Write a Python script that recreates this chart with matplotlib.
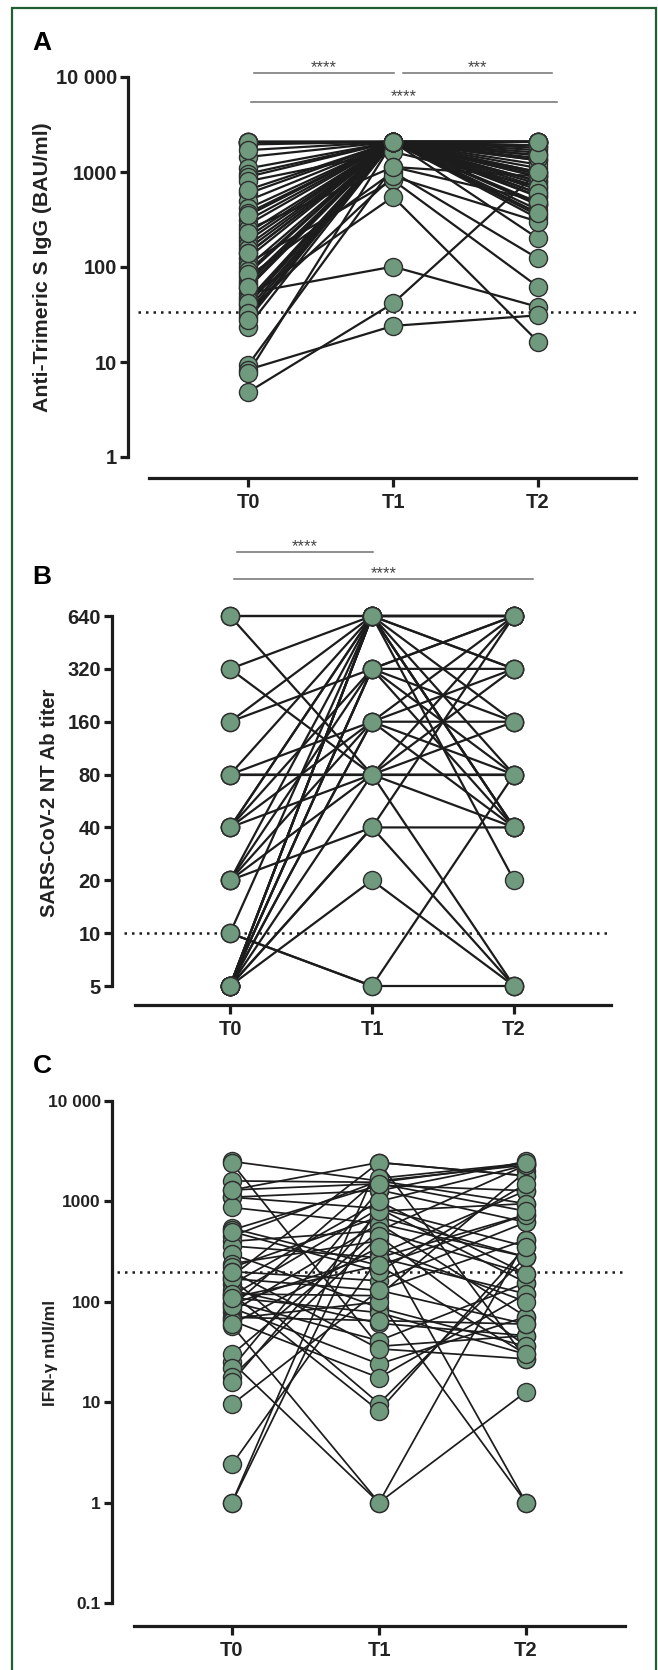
import matplotlib
matplotlib.use("Agg")
import matplotlib.pyplot as plt
import matplotlib.transforms as mtransforms
from matplotlib import font_manager
from matplotlib.ticker import FixedLocator, FixedFormatter, NullLocator
from matplotlib.patches import Rectangle

# ---- data: panel A, anti-trimeric S IgG (BAU/ml), one entry per subject
a_t0 = [2080, 2080, 2080, 2050, 1950, 1440, 1090, 960, 890, 800, 594, 500, 413, 370,
        312, 280, 250, 208, 190, 170, 155, 139, 125, 110, 101, 90, 79, 72, 67, 60,
        53, 48, 45, 40, 36, 34, 30, 23.6, 9.3, 8.3, 7.6, 4.81, 2080, 1700, 650, 350,
        230, 140, 85, 62, 42, 33, 28]
a_t1 = [2080, 2080, 2080, 2080, 2080, 2080, 2080, 2080, 2080, 1630, 2080, 2080, 2080, 2080,
        2080, 2080, 1130, 2080, 2080, 2080, 2080, 2080, 2080, 820, 2080, 2080, 1000, 2080, 2080, 2080,
        101, 548, 2080, 2080, 2080, 900, 2080, 2080, 1130, 24, 2080, 41.5, 2080, 2080, 2080, 2080,
        2080, 2080, 2080, 2080, 2080, 2080, 2080]
a_t2 = [2080, 2080, 1900, 2080, 1700, 1330, 2080, 890, 1500, 700, 550, 466, 2080, 600,
        325, 1800, 900, 466, 1100, 200, 800, 1330, 400, 62, 1000, 560, 123, 2080, 750, 450,
        38, 16.4, 350, 1200, 650, 300, 1600, 950, 500, 31, 800, 1000, 1400, 900, 1900, 700,
        2080, 600, 1500, 1000, 480, 2080, 370]
a_cutoff = 33.8
a_ticks = [1, 10, 100, 1000, 10000]
a_ticklabels = ["1", "10", "100", "1000", "10 000"]

# ---- data: panel B, neutralising antibody titre
b_t0 = [640, 640, 320, 160, 80, 40, 40, 20, 10, 5, 5, 5, 5,
        160, 40, 20, 5, 5, 5,
        80, 40, 20, 5, 5,
        640, 320, 80, 80, 40, 20, 5,
        20, 5, 5,
        5,
        10, 10]
b_t1 = [640, 640, 640, 640, 640, 640, 640, 640, 640, 640, 640, 640, 640,
        320, 320, 320, 320, 320, 320,
        160, 160, 160, 160, 160,
        80, 80, 80, 80, 80, 80, 80,
        40, 40, 40,
        20,
        5, 5]
b_t2 = [640, 640, 640, 320, 640, 160, 40, 40, 640, 320, 40, 20, 80,
        320, 640, 640, 160, 80, 40,
        160, 640, 320, 40, 80,
        80, 160, 80, 640, 40, 5, 320,
        40, 640, 5,
        5,
        5, 80]
b_cutoff = 10
b_ticks = [5, 10, 20, 40, 80, 160, 320, 640]

# ---- data: panel C, IFN-gamma (mUI/ml)
c_t0 = [2500, 2400, 1600, 1300, 1100, 1100, 870, 540, 520, 450, 400, 360, 300, 240,
        220, 200, 180, 170, 150, 130, 120, 115, 110, 100, 95, 87, 80, 70, 68, 65,
        58, 25, 30, 22, 18, 16, 9.5, 2.4, 1, 1, 170, 120, 200, 500, 90, 60, 1300, 110]
c_t1 = [1600, 36, 1550, 2440, 1280, 850, 600, 230, 1450, 1600, 510, 275, 87, 405,
        700, 162, 2440, 130, 1000, 61, 115, 850, 78, 41, 300, 24, 600, 65, 100, 17.5,
        1, 1, 510, 1300, 450, 800, 130, 275, 2440, 1000, 9.7, 8.2, 34, 200, 1700, 350, 1500, 230]
c_t2 = [2300, 46, 2400, 1800, 2500, 155, 71, 740, 1280, 950, 2300, 120, 36, 1,
        280, 620, 27, 415, 190, 46, 2000, 355, 30, 155, 1280, 71, 280, 60, 1, 120,
        12.7, 415, 190, 620, 36, 950, 60, 740, 1800, 2300, 280, 355, 27, 1500, 2400, 100, 800, 30]
c_cutoff = 200
c_ticks = [0.1, 1, 10, 100, 1000, 10000]
c_ticklabels = ["0.1", "1", "10", "100", "1000", "10 000"]

timepoints = ["T0", "T1", "T2"]

W, H = 658, 1670
names = {f.name for f in font_manager.fontManager.ttflist}
narrow = "Liberation Sans Narrow" if "Liberation Sans Narrow" in names else "Liberation Sans"
plt.rcParams["font.family"] = ["Liberation Sans", "DejaVu Sans"]
green = "#6f9a7d"
border = "#1f5f33"

fig = plt.figure(figsize=(W / 100, H / 100), dpi=100)


def px_axes(left, right, top, bottom):
    return fig.add_axes([left / W, 1 - bottom / H, (right - left) / W, (bottom - top) / H])


def draw_panel(ax, t0, t1, t2, lw):
    for a, b, c in zip(t0, t1, t2):
        ax.plot([0, 1, 2], [a, b, c], color="#1c1c1c", lw=lw, zorder=2, clip_on=False)
    for i, vals in enumerate([t0, t1, t2]):
        ax.plot([i] * len(vals), vals, "o", ms=13, mfc=green, mec="#2e2e2e", mew=1.0,
                zorder=3, clip_on=False)


def style_axes(ax, xlim, xstart, outward, tick_font, tick_size):
    ax.set_xlim(*xlim)
    for s in ["top", "right"]:
        ax.spines[s].set_visible(False)
    ax.spines["left"].set_linewidth(2.3)
    ax.spines["bottom"].set_linewidth(2.3)
    ax.spines["bottom"].set_position(("outward", outward * 0.72))
    ax.spines["bottom"].set_bounds(xstart, xlim[1])
    ax.spines["left"].set_color("#1c1c1c")
    ax.spines["bottom"].set_color("#1c1c1c")
    ax.set_xticks([0, 1, 2])
    ax.set_xticklabels(timepoints, fontfamily=narrow, fontweight="bold", fontsize=14.5, color="#222222")
    ax.tick_params(axis="x", length=6.5, width=2.3, pad=4, color="#1c1c1c")
    ax.tick_params(axis="y", length=6, width=2.3, pad=2, color="#1c1c1c")
    ax.yaxis.set_minor_locator(NullLocator())
    for lab in ax.get_yticklabels():
        lab.set_fontfamily(tick_font)
        lab.set_fontweight("bold")
        lab.set_fontsize(tick_size)
        lab.set_color("#222222")
    ax.set_facecolor("none")


def cutoff_line(ax, x0, x1, y):
    ax.plot([x0, x1], [y, y], color="#1c1c1c", lw=1.8, ls=(0, (1, 2)), zorder=1,
            clip_on=False, dash_capstyle="butt")


def sig_bar(ax, x0, x1, yfrac, stars):
    tr = mtransforms.blended_transform_factory(ax.transData, ax.transAxes)
    ax.plot([x0, x1], [yfrac, yfrac], color="#707070", lw=1.1, transform=tr, clip_on=False)
    ax.text((x0 + x1) / 2, yfrac - 0.006, stars, transform=tr, ha="center", va="bottom",
            fontsize=12, color="#444444")


# ---------- panel A
axA = px_axes(128, 636, 77, 457)
axA.set_yscale("log")
axA.set_ylim(1, 10000)
axA.yaxis.set_major_locator(FixedLocator(a_ticks))
axA.yaxis.set_major_formatter(FixedFormatter(a_ticklabels))
draw_panel(axA, a_t0, a_t1, a_t2, 1.6)
cutoff_line(axA, -0.759, 2.676, a_cutoff)
style_axes(axA, (-0.828, 2.676), -0.683, 21, narrow, 14.5)
sig_bar(axA, 0.041, 1.007, 1.0105, "****")
sig_bar(axA, 1.069, 2.097, 1.0105, "***")
sig_bar(axA, 0.02, 2.13, 0.934, "****")

# ---------- panel B
axB = px_axes(112, 611, 616, 986)
axB.set_yscale("log", base=2)
axB.set_ylim(5, 640)
axB.yaxis.set_major_locator(FixedLocator(b_ticks))
axB.yaxis.set_major_formatter(FixedFormatter([str(t) for t in b_ticks]))
draw_panel(axB, b_t0, b_t1, b_t2, 1.6)
cutoff_line(axB, -0.746, 2.66, b_cutoff)
style_axes(axB, (-0.831, 2.683), -0.669, 19, narrow, 14.5)
sig_bar(axB, 0.05, 1.007, 1.173, "****")
sig_bar(axB, 0.028, 2.134, 1.10, "****")

# ---------- panel C
axC = px_axes(112, 625, 1101, 1603)
axC.set_yscale("log")
axC.set_ylim(0.1, 10000)
axC.yaxis.set_major_locator(FixedLocator(c_ticks))
axC.yaxis.set_major_formatter(FixedFormatter(c_ticklabels))
draw_panel(axC, c_t0, c_t1, c_t2, 1.25)
cutoff_line(axC, -0.782, 2.673, c_cutoff)
style_axes(axC, (-0.816, 2.673), -0.667, 23, "Liberation Sans", 12.5)

# ---------- labels
for letter, y in [("A", 43), ("B", 577), ("C", 1066)]:
    fig.text(42 / W, 1 - y / H, letter, ha="center", va="center", fontsize=19, fontweight="bold")
fig.text(43 / W, 1 - 267 / H, "Anti-Trimeric S IgG (BAU/ml)", rotation=90, ha="center",
         va="center", fontsize=15.3, fontweight="bold", color="#222222")
fig.text(50 / W, 1 - 803 / H, "SARS-CoV-2 NT Ab titer", rotation=90, ha="center",
         va="center", fontsize=14.6, fontweight="bold", color="#222222")
fig.text(51 / W, 1 - 1353 / H, "IFN-γ mUI/ml", rotation=90, ha="center",
         va="center", fontsize=12.5, fontweight="bold", color="#222222",
         family=["Liberation Sans", "DejaVu Sans"])

# frame around the figure (bottom edge cut off)
fig.patches.append(Rectangle((12 / W, -0.01), (656 - 12) / W, 1.01 - 8 / H,
                             transform=fig.transFigure, fill=False, ec=border, lw=1.6))

fig.savefig("out.png", dpi=100)
